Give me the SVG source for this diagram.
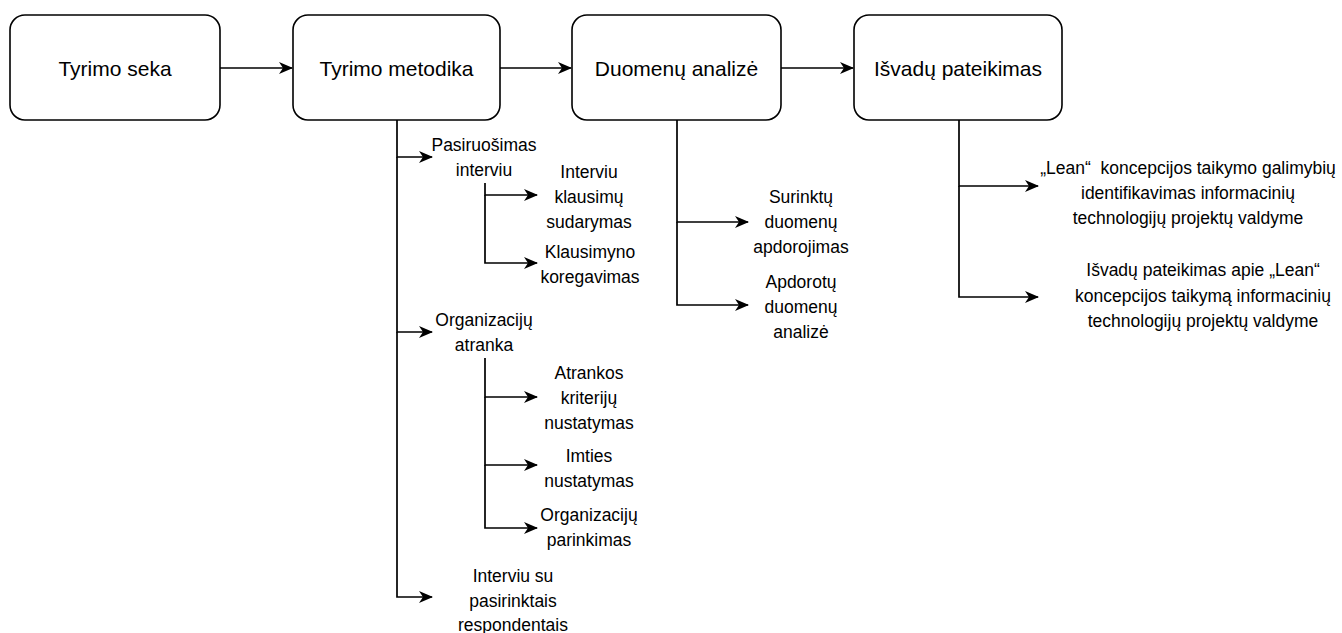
<svg xmlns="http://www.w3.org/2000/svg" width="1342" height="633" viewBox="0 0 1342 633">
  <style>
    .box { fill: #ffffff; stroke: #000000; stroke-width: 1.6; }
    .main { font-family: "Liberation Sans", Arial, sans-serif; font-size: 21px; fill: #000000; text-anchor: middle; dominant-baseline: central; }
    .sub { font-family: "Liberation Sans", Arial, sans-serif; font-size: 17.5px; fill: #000000; text-anchor: middle; dominant-baseline: central; white-space: pre; }
    .edge { fill: none; stroke: #000000; stroke-width: 1.7; marker-end: url(#arrow); }
  </style>
  <defs>
    <marker id="arrow" viewBox="0 0 14 12" refX="13" refY="6" markerWidth="14" markerHeight="12" markerUnits="userSpaceOnUse" orient="auto">
      <path d="M0,0 L14,6 L0,12 L4,6 Z" fill="#000000"/>
    </marker>
  </defs>

  <rect width="1342" height="633" fill="#ffffff"/>

  <!-- connectors -->
  <g id="connectors">
    <path class="edge" d="M220,68 H292"/>
    <path class="edge" d="M500,68 H571"/>
    <path class="edge" d="M781,68 H853"/>

    <!-- Tyrimo metodika tree -->
    <path class="edge" d="M397,120 V157 H432"/>
    <path class="edge" d="M397,157 V332 H432"/>
    <path class="edge" d="M397,332 V597 H432"/>
    <path class="edge" d="M485,183 V195 H537"/>
    <path class="edge" d="M485,195 V263 H537"/>
    <path class="edge" d="M485,358 V397 H537"/>
    <path class="edge" d="M485,397 V465 H537"/>
    <path class="edge" d="M485,465 V528 H537"/>

    <!-- Duomenų analizė tree -->
    <path class="edge" d="M677,120 V222 H748"/>
    <path class="edge" d="M677,222 V305 H748"/>

    <!-- Išvadų pateikimas tree -->
    <path class="edge" d="M959,120 V186 H1038"/>
    <path class="edge" d="M959,186 V297 H1038"/>
  </g>

  <!-- main stages -->
  <g id="tyrimo-seka">
    <rect class="box" x="10" y="15" width="210" height="105" rx="15"/>
    <text class="main" x="115" y="68">Tyrimo seka</text>
  </g>
  <g id="tyrimo-metodika">
    <rect class="box" x="293" y="15" width="207" height="105" rx="15"/>
    <text class="main" x="396.5" y="68">Tyrimo metodika</text>
  </g>
  <g id="duomenu-analize">
    <rect class="box" x="572" y="15" width="209" height="105" rx="15"/>
    <text class="main" x="676.5" y="68">Duomenų analizė</text>
  </g>
  <g id="isvadu-pateikimas">
    <rect class="box" x="854" y="15" width="208" height="105" rx="15"/>
    <text class="main" x="958" y="68">Išvadų pateikimas</text>
  </g>

  <!-- Tyrimo metodika sub-steps -->
  <g id="pasiruosimas">
    <text class="sub" x="484" y="145">Pasiruošimas</text>
    <text class="sub" x="484" y="170">interviu</text>
  </g>
  <g id="klausimu-sudarymas">
    <text class="sub" x="589" y="172">Interviu</text>
    <text class="sub" x="589" y="197">klausimų</text>
    <text class="sub" x="589" y="222">sudarymas</text>
  </g>
  <g id="klausimyno-koregavimas">
    <text class="sub" x="590" y="252">Klausimyno</text>
    <text class="sub" x="590" y="277">koregavimas</text>
  </g>
  <g id="organizaciju-atranka">
    <text class="sub" x="484" y="320">Organizacijų</text>
    <text class="sub" x="484" y="345">atranka</text>
  </g>
  <g id="kriteriju-nustatymas">
    <text class="sub" x="589" y="373">Atrankos</text>
    <text class="sub" x="589" y="398">kriterijų</text>
    <text class="sub" x="589" y="423">nustatymas</text>
  </g>
  <g id="imties-nustatymas">
    <text class="sub" x="589" y="456">Imties</text>
    <text class="sub" x="589" y="481">nustatymas</text>
  </g>
  <g id="organizaciju-parinkimas">
    <text class="sub" x="589" y="515">Organizacijų</text>
    <text class="sub" x="589" y="540">parinkimas</text>
  </g>
  <g id="interviu-respondentais">
    <text class="sub" x="513" y="576">Interviu su</text>
    <text class="sub" x="513" y="601">pasirinktais</text>
    <text class="sub" x="513" y="625">respondentais</text>
  </g>

  <!-- Duomenų analizė sub-steps -->
  <g id="duomenu-apdorojimas">
    <text class="sub" x="801" y="197">Surinktų</text>
    <text class="sub" x="801" y="222">duomenų</text>
    <text class="sub" x="801" y="247">apdorojimas</text>
  </g>
  <g id="duomenu-analize-sub">
    <text class="sub" x="801" y="282">Apdorotų</text>
    <text class="sub" x="801" y="307">duomenų</text>
    <text class="sub" x="801" y="332">analizė</text>
  </g>

  <!-- Išvadų pateikimas sub-steps -->
  <g id="galimybiu-identifikavimas">
    <text class="sub" x="1188" y="168">„Lean“  koncepcijos taikymo galimybių</text>
    <text class="sub" x="1188" y="193">identifikavimas informacinių</text>
    <text class="sub" x="1188" y="218">technologijų projektų valdyme</text>
  </g>
  <g id="isvadu-pateikimas-sub">
    <text class="sub" x="1203" y="270">Išvadų pateikimas apie „Lean“</text>
    <text class="sub" x="1203" y="296">koncepcijos taikymą informacinių</text>
    <text class="sub" x="1203" y="321">technologijų projektų valdyme</text>
  </g>
</svg>
